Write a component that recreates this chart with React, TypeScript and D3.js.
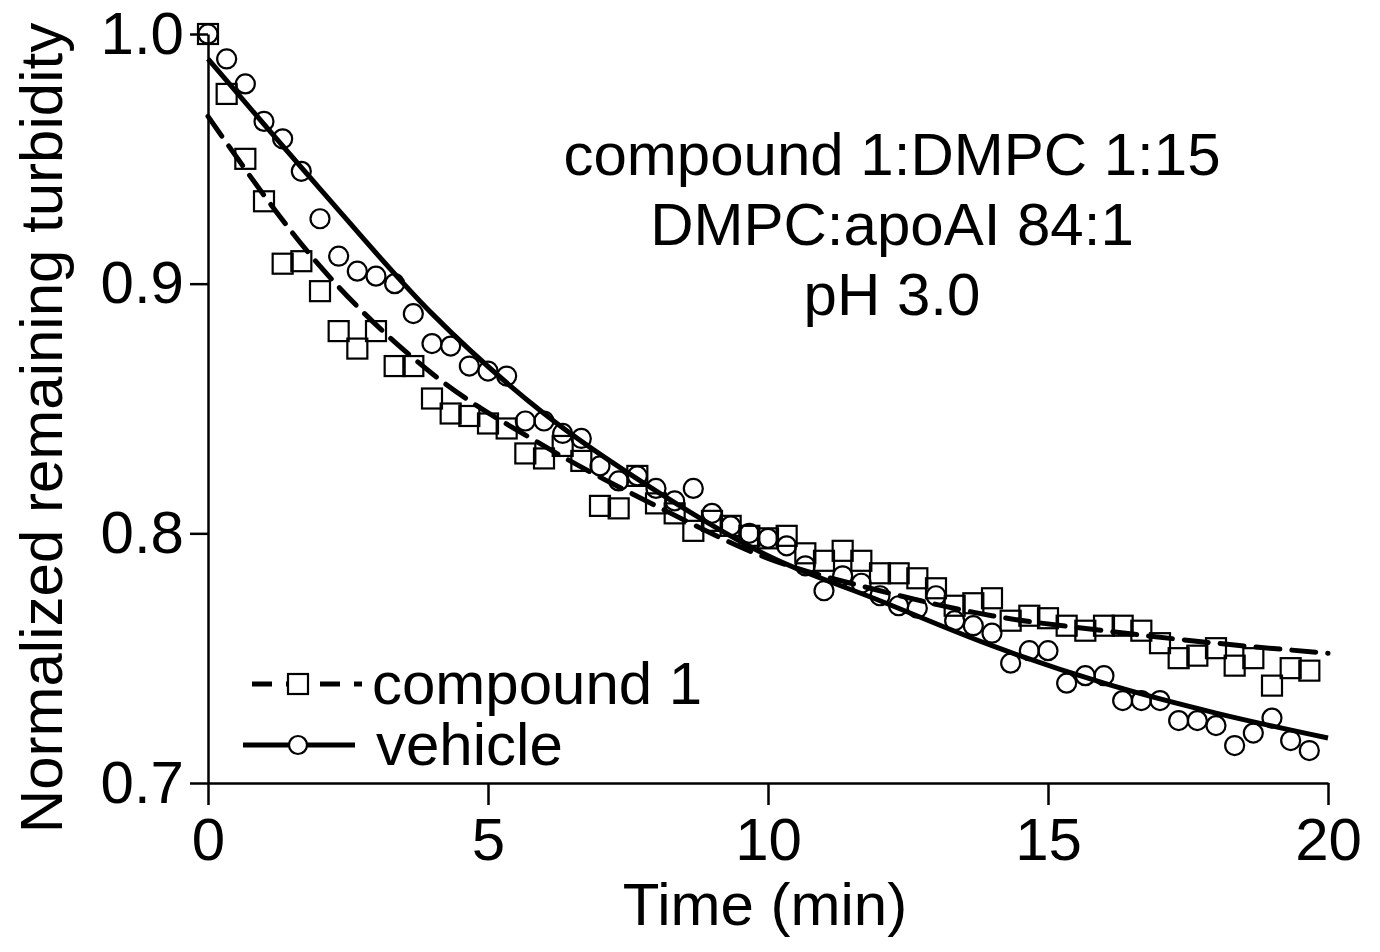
import * as d3 from 'd3';
import React, { useEffect, useRef } from 'react';

// sample times: one reading every 20 s (1/3 min), 60 readings
const times = d3.range(60).map(i => i / 3);

const compoundValues = [
  1.000, 0.976, 0.950, 0.933, 0.908, 0.909, 0.897, 0.881, 0.874, 0.881,
  0.867, 0.867, 0.854, 0.848, 0.847, 0.844, 0.842, 0.832, 0.830, 0.835,
  0.829, 0.811, 0.810, 0.823, 0.812, 0.808, 0.801, 0.805, 0.803, 0.799,
  0.798, 0.799, 0.792, 0.789, 0.793, 0.789, 0.784, 0.784, 0.782, 0.778,
  0.771, 0.772, 0.774, 0.765, 0.767, 0.766, 0.763, 0.761, 0.763, 0.763,
  0.761, 0.756, 0.750, 0.751, 0.754, 0.747, 0.750, 0.739, 0.746, 0.745,
];

const vehicleValues = [
  1.000, 0.990, 0.980, 0.965, 0.958, 0.945, 0.926, 0.911, 0.905, 0.903,
  0.900, 0.888, 0.876, 0.875, 0.867, 0.865, 0.863, 0.845, 0.845, 0.840,
  0.838, 0.827, 0.821, 0.823, 0.818, 0.813, 0.818, 0.808, 0.803, 0.800,
  0.798, 0.795, 0.787, 0.777, 0.783, 0.780, 0.775, 0.771, 0.770, 0.775,
  0.765, 0.763, 0.760, 0.748, 0.753, 0.753, 0.740, 0.743, 0.743, 0.733,
  0.733, 0.733, 0.725, 0.725, 0.723, 0.715, 0.720, 0.726, 0.717, 0.713,
];

// fitted curves, every 2 min
const fitTimes = [0, 2, 4, 6, 8, 10, 12, 14, 16, 18, 20];
const compoundFit = [0.967, 0.907, 0.864, 0.835, 0.811, 0.790, 0.777, 0.767, 0.761, 0.756, 0.752];
const vehicleFit = [0.990, 0.938, 0.888, 0.848, 0.817, 0.791, 0.773, 0.755, 0.740, 0.728, 0.718];

const xTicks = [0, 5, 10, 15, 20];
const yTicks = [0.7, 0.8, 0.9, 1.0];
const infoLines = ['compound 1:DMPC 1:15', 'DMPC:apoAI 84:1', 'pH 3.0'];

const W = 1380, H = 952;
const font = '"Liberation Sans", Arial, sans-serif';

const App = () => {
  const xAxisRef = useRef<SVGGElement>(null);
  const yAxisRef = useRef<SVGGElement>(null);

  const x = d3.scaleLinear().domain([0, 20]).range([208, 1328]);
  const y = d3.scaleLinear().domain([0.7, 1.0]).range([783, 34]);

  useEffect(() => {
    const xa = d3.select(xAxisRef.current!);
    xa.selectAll('*').remove();
    xa.call(d3.axisBottom(x).tickValues(xTicks).tickSize(22).tickSizeOuter(0).tickPadding(12)
      .tickFormat(d => String(d)));
    xa.select('.domain').attr('stroke-width', 2.5);
    xa.selectAll('.tick line').attr('stroke-width', 2.5);
    xa.selectAll('.tick text').attr('font-size', 60).attr('font-family', font).attr('fill', '#000');

    const ya = d3.select(yAxisRef.current!);
    ya.selectAll('*').remove();
    ya.call(d3.axisLeft(y).tickValues(yTicks).tickSize(18).tickSizeOuter(0).tickPadding(6)
      .tickFormat(d3.format('.1f')));
    ya.select('.domain').attr('stroke-width', 2.5);
    ya.selectAll('.tick line').attr('stroke-width', 2.5);
    ya.selectAll('.tick text').attr('font-size', 60).attr('font-family', font).attr('fill', '#000');
  }, []);

  const fitLine = d3.line<number>()
    .x((d, i) => x(fitTimes[i]))
    .y(d => y(d))
    .curve(d3.curveMonotoneX);

  const sq = 20;

  return (
    <div style={{ position: 'absolute', left: 0, top: 0 }}>
      <svg width={W} height={H} style={{ display: 'block', background: '#fff' }}>
        <g>
          {compoundValues.map((v, i) => (
            <rect key={'s' + i} x={x(times[i]) - sq / 2} y={y(v) - sq / 2} width={sq} height={sq}
              fill="none" stroke="#000" strokeWidth={2.2} />
          ))}
          {vehicleValues.map((v, i) => (
            <circle key={'c' + i} cx={x(times[i])} cy={y(v)} r={9.5}
              fill="none" stroke="#000" strokeWidth={2.2} />
          ))}
        </g>
        <path d={fitLine(compoundFit) || ''} fill="none" stroke="#000" strokeWidth={5}
          strokeDasharray="24,12" strokeLinecap="round" />
        <path d={fitLine(vehicleFit) || ''} fill="none" stroke="#000" strokeWidth={5} />

        <g ref={xAxisRef} transform="translate(0,783)" />
        <g ref={yAxisRef} transform="translate(208,0)" />

        {/* annotation */}
        <g fontFamily={font} fontSize={60} textAnchor="middle" fill="#000">
          {infoLines.map((t, i) => (
            <text key={t} x={892} y={175 + i * 70}>{t}</text>
          ))}
        </g>

        {/* legend */}
        <g>
          <line x1={252} x2={362} y1={684} y2={684} stroke="#000" strokeWidth={5}
            strokeDasharray="20,14" />
          <rect x={288} y={674} width={20} height={20} fill="#fff" stroke="#000" strokeWidth={2.2} />
          <text x={372} y={704} fontFamily={font} fontSize={60}>compound 1</text>
          <line x1={243} x2={355} y1={745} y2={745} stroke="#000" strokeWidth={5} />
          <circle cx={298} cy={745} r={9} fill="#fff" stroke="#000" strokeWidth={2.2} />
          <text x={376} y={765} fontFamily={font} fontSize={60}>vehicle</text>
        </g>

        <text x={765} y={925} fontFamily={font} fontSize={60} textAnchor="middle">Time (min)</text>
        <text transform="translate(62,428) rotate(-90)" fontFamily={font} fontSize={60}
          textAnchor="middle">Normalized remaining turbidity</text>
      </svg>
    </div>
  );
};

export default App;
